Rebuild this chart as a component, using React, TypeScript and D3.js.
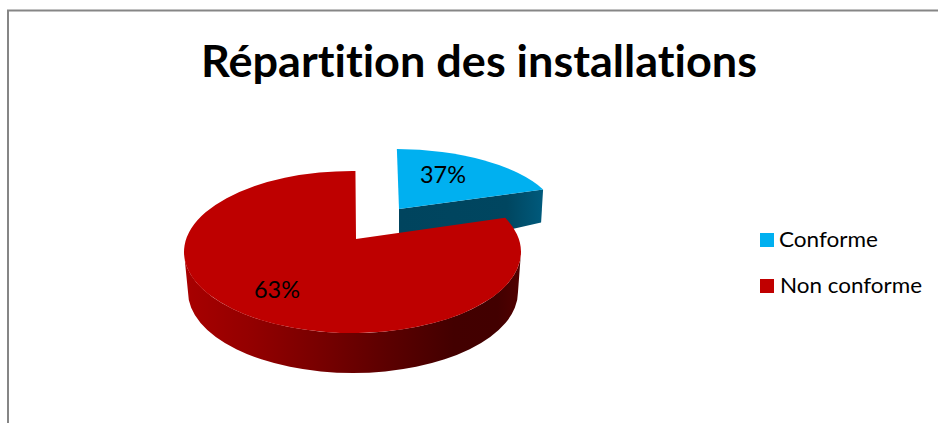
import React from "react";
import * as d3 from "d3";

const categories = ["Conforme", "Non conforme"];
const shares = [37, 63];
const shareLabels = ["37%", "63%"];
const colors = ["#00B0F0", "#BE0000"];
const legendColors = ["#00B0F0", "#C00000"];
const titleText = "Répartition des installations";

// The original's 3D perspective squeezes the drawn angles: 37% covers only about 64 degrees.
const deg = Math.PI / 180;
const pieLayout = d3.pie<number>().sort(null);
const arcs = pieLayout(shares);
const warp = d3.scaleLinear().domain([0, arcs[0].endAngle, 2 * Math.PI]).range([1 * deg, 65 * deg, 361 * deg]);

const red = { cx: 352.5, cy: 252, rx: 168.5, ry: 81, ax: 356, ay: 239 };
const redBase = { cx: 353, cy: 292, rx: 165, ry: 81 };
const blue = { cx: 394, cy: 219, rx: 164.5, ry: 70, ax: 399, ay: 209 };
const blueDepth = 33;

type E = { cx: number; cy: number; rx: number; ry: number };
const pt = (e: E, a: number): [number, number] => [e.cx + e.rx * Math.sin(a), e.cy - e.ry * Math.cos(a)];

function facePath(e: E & { ax: number; ay: number }, a0: number, a1: number) {
  const [x0, y0] = pt(e, a0);
  const [x1, y1] = pt(e, a1);
  const large = a1 - a0 > Math.PI ? 1 : 0;
  return `M${e.ax},${e.ay}L${x0},${y0}A${e.rx},${e.ry} 0 ${large} 1 ${x1},${y1}Z`;
}

const blueA0 = warp(arcs[0].startAngle);
const blueA1 = warp(arcs[0].endAngle);
const redA0 = warp(arcs[1].startAngle);
const redA1 = warp(arcs[1].endAngle);

const redSide = (() => {
  const tl = pt(red, 270 * deg), tr = pt(red, 90 * deg);
  const bl = pt(redBase, 270 * deg), br = pt(redBase, 90 * deg);
  return `M${tl}L${bl}A${redBase.rx},${redBase.ry} 0 0 0 ${br}L${tr}A${red.rx},${red.ry} 0 0 1 ${tl}Z`;
})();

const blueSide = (() => {
  const [rx, ry] = pt(blue, blueA1);
  return `M${blue.ax},${blue.ay}L${rx},${ry}L${rx - 2},${ry + blueDepth}L${blue.ax},${blue.ay + blueDepth + 13}Z`;
})();

const redStops: [number, string][] = [
  [0, "#A80000"], [0.2, "#930000"], [0.4, "#780000"], [0.6, "#5C0000"], [0.8, "#430000"], [0.93, "#420000"], [1, "#520000"],
];

const legendRows = [
  { y: 233, tx: 779, tw: 99, base: 247 },
  { y: 279, tx: 780, tw: 142, base: 293 },
];

const font = "Lato, Carlito, 'Open Sans', sans-serif";

export default function App() {
  return (
    <svg width={938} height={423} style={{ position: "absolute", left: 0, top: 0, display: "block", background: "#fff", fontVariantLigatures: "none" }} fontFamily={font}>
      <defs>
        <linearGradient id="redSide" x1="0" x2="1" y1="0" y2="0">
          {redStops.map(([o, c]) => <stop key={o} offset={o} stopColor={c} />)}
        </linearGradient>
        <linearGradient id="blueSide" x1="0" x2="1" y1="0" y2="0">
          <stop offset="0" stopColor="#00445E" />
          <stop offset="0.75" stopColor="#004660" />
          <stop offset="1" stopColor="#005A7C" />
        </linearGradient>
      </defs>
      <path d="M8,423V10.5H938" fill="none" stroke="#868686" strokeWidth={2} />
      <text x={201} y={77} fontSize={43} fontWeight={700} textLength={556} lengthAdjust="spacingAndGlyphs" fill="#000">{titleText}</text>

      <path d={blueSide} fill="url(#blueSide)" />
      <path d={facePath(blue, blueA0, blueA1)} fill={colors[0]} />
      <path d={redSide} fill="url(#redSide)" />
      <path d={facePath(red, redA0, redA1)} fill={colors[1]} />

      <text x={420} y={183} fontSize={23} textLength={46} lengthAdjust="spacingAndGlyphs" fill="#000">{shareLabels[0]}</text>
      <text x={254} y={298} fontSize={23} textLength={46} lengthAdjust="spacingAndGlyphs" fill="#000">{shareLabels[1]}</text>

      {categories.map((c, i) => (
        <g key={c}>
          <rect x={760} y={legendRows[i].y} width={14} height={14} fill={legendColors[i]} />
          <text x={legendRows[i].tx} y={legendRows[i].base} fontSize={21} textLength={legendRows[i].tw} lengthAdjust="spacingAndGlyphs" fill="#000">{c}</text>
        </g>
      ))}
    </svg>
  );
}
